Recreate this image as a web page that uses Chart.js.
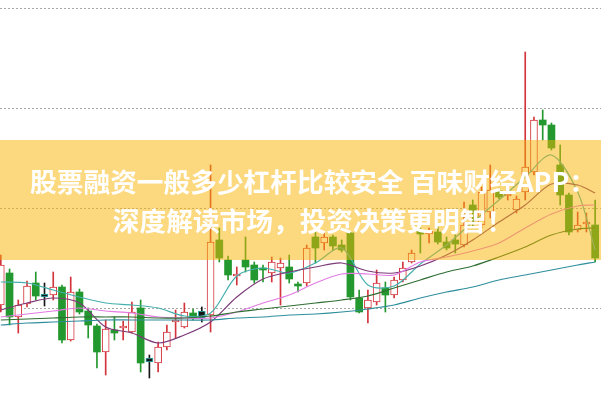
<!DOCTYPE html>
<html><head><meta charset="utf-8">
<script src="https://cdn.jsdelivr.net/npm/chart.js@4.4.1/dist/chart.umd.min.js"></script>
<style>html,body{margin:0;padding:0;background:#fff;overflow:hidden}#wrap{position:relative;width:601px;height:400px}</style>
</head><body>
<div id="wrap"><canvas id="c" width="601" height="400"></canvas></div>
<script>
const openP = [8.015,8.175,7.955,8.02,8.125,8.07,8.065,8.105,7.84,8.08,7.985,7.91,7.78,7.89,7.9,7.88,8.0,7.75,7.725,7.805,7.93,7.905,7.975,7.985,7.965,8.34,8.24,8.16,8.24,8.215,8.2,8.175,8.2,8.205,8.12,8.125,8.355,8.325,8.355,8.315,8.375,8.05,8.0,8.03,8.1,8.065,8.14,8.23,8.385,8.37,8.38,8.33,8.34,8.315,8.515,8.415,8.48,8.585,8.56,8.49,8.58,8.68,8.94,8.915,8.715,8.565,8.39,8.42,8.415];
const closeP = [8.215,7.955,8.015,8.11,8.06,8.055,8.105,7.84,8.08,7.98,7.915,7.78,7.895,7.875,7.91,7.98,7.725,7.73,7.805,7.88,7.94,7.98,7.95,7.95,8.33,8.25,8.165,8.17,8.205,8.14,8.19,8.23,8.225,8.145,8.11,8.3,8.3,8.355,8.31,8.29,8.055,7.98,8.04,8.125,8.065,8.14,8.2,8.275,8.37,8.385,8.33,8.3,8.32,8.415,8.485,8.58,8.59,8.555,8.57,8.545,8.705,8.94,8.915,8.8,8.565,8.38,8.415,8.43,8.25];
const highP = [8.265,8.195,8.04,8.135,8.18,8.125,8.18,8.115,8.155,8.095,8.0,7.92,7.94,7.955,7.935,8.03,8.04,7.765,7.83,7.915,7.99,8.025,7.995,8.005,8.715,8.4,8.26,8.205,8.355,8.23,8.215,8.255,8.25,8.265,8.13,8.315,8.405,8.375,8.365,8.34,8.38,8.09,8.09,8.19,8.13,8.155,8.23,8.29,8.4,8.4,8.405,8.355,8.365,8.53,8.54,8.605,8.715,8.6,8.59,8.56,9.28,8.955,8.99,8.925,8.815,8.575,8.48,8.475,8.54];
const lowP = [7.98,7.915,7.875,8.005,8.04,8.01,8.04,7.825,7.835,7.97,7.85,7.7,7.665,7.84,7.84,7.875,7.68,7.65,7.68,7.79,7.85,7.9,7.94,7.93,7.88,8.23,8.14,8.115,8.18,8.125,8.13,8.13,8.015,8.125,8.08,8.11,8.225,8.29,8.29,8.28,8.04,7.975,7.925,8.015,7.98,8.05,8.13,8.225,8.275,8.325,8.32,8.29,8.275,8.305,8.405,8.4,8.45,8.545,8.54,8.475,8.54,8.665,8.84,8.79,8.515,8.365,8.38,8.38,8.23];
const flagged = [5,17,23];

const maIdx = [0,3,6,9,12,15,18,21,24,27,30,33,36,39,42,45,48,51,54,57,60,63,66,68];
const maFast = [8.13,8.125,8.09,8.055,8.025,8.015,8.0,7.96,7.975,8.16,8.2,8.175,8.225,8.3,8.115,8.11,8.22,8.315,8.43,8.54,8.655,8.765,8.58,8.29];
const maPurple = [7.99,8.025,8.05,8.025,7.905,7.875,7.825,7.865,7.93,8.055,8.145,8.18,8.205,8.225,8.185,8.175,8.21,8.265,8.34,8.43,8.515,8.62,8.615,8.575];
const maPink = [7.955,7.97,7.985,8.0,7.985,7.975,7.955,7.95,7.95,7.98,8.025,8.065,8.125,8.17,8.17,8.165,8.23,8.255,8.285,8.325,8.4,8.47,8.51,8.515];
const maGreen = [7.94,7.945,7.95,7.955,7.955,7.955,7.95,7.95,7.96,7.98,7.995,8.01,8.025,8.04,8.06,8.1,8.14,8.18,8.21,8.255,8.305,8.365,8.395,8.4];
const maLong = [7.915,7.925,7.93,7.935,7.94,7.94,7.94,7.94,7.94,7.95,7.955,7.965,7.97,7.98,7.995,8.015,8.05,8.08,8.105,8.14,8.165,8.19,8.215,8.23];

const gridPrices = [8.0, 8.5, 9.0, 9.5];
const titleLines = ['股票融资一般多少杠杆比较安全 百味财经APP：', '深度解读市场，投资决策更明智！'];

const RED = '#d3343c', GREEN = '#23982e', BLACK = '#161616';
function kind(i){ if (flagged.includes(i)) return 'flag'; return closeP[i] >= openP[i] ? 'up' : 'down'; }
const idxs = openP.map((_, i) => i);
function bodies(k){ return idxs.filter(i => kind(i) === k).map(i => ({x: i, y: [Math.min(openP[i], closeP[i]), Math.max(openP[i], closeP[i])]})); }
function wicks(k){ return idxs.filter(i => kind(i) === k).map(i => ({x: i, y: [lowP[i], highP[i]]})); }

const barBase = {type: 'bar', grouped: false, borderSkipped: false};
function line(data, color){
  return {type: 'line', data: maIdx.map((x, k) => ({x, y: data[k]})), borderColor: color, borderWidth: 1.2,
    pointRadius: 0, tension: 0.3, fill: false, order: 0};
}

const datasets = [
  {...barBase, data: wicks('up'), backgroundColor: RED, barThickness: 1, borderWidth: 0, order: 3},
  {...barBase, data: wicks('down'), backgroundColor: GREEN, barThickness: 1, borderWidth: 0, order: 3},
  {...barBase, data: wicks('flag'), backgroundColor: BLACK, barThickness: 1, borderWidth: 0, order: 3},
  {...barBase, data: bodies('up'), backgroundColor: '#ffffff', borderColor: RED, borderWidth: 1, barThickness: 7, order: 2},
  {...barBase, data: bodies('down'), backgroundColor: GREEN, borderColor: GREEN, borderWidth: 0, barThickness: 7, order: 2},
  {...barBase, data: bodies('flag'), backgroundColor: BLACK, borderColor: '#2fb0b0', borderWidth: 1, barThickness: 7, order: 2},
  line(maLong, '#2f8e9c'),
  line(maGreen, '#2f6e32'),
  line(maPink, '#e27be2'),
  line(maPurple, '#7d3a78'),
  line(maFast, '#45b0ad')
];

const gridPlugin = {
  id: 'dottedGrid',
  beforeDatasetsDraw(chart){
    const {ctx, chartArea, scales} = chart;
    ctx.save();
    ctx.strokeStyle = '#a8a8a8'; ctx.lineWidth = 1; ctx.setLineDash([2, 2]);
    gridPrices.forEach(p => {
      const y = Math.round(scales.y.getPixelForValue(p)) + 0.5;
      ctx.beginPath(); ctx.moveTo(chartArea.left, y); ctx.lineTo(chartArea.right, y); ctx.stroke();
    });
    ctx.restore();
  }
};
const bannerPlugin = {
  id: 'banner',
  afterDraw(chart){
    const {ctx} = chart;
    ctx.save();
    ctx.fillStyle = 'rgba(249,179,0,0.5)';
    ctx.fillRect(0, 140, 601, 120);
    ctx.fillStyle = '#ffffff';
    ctx.font = 'bold 26.7px "Noto Sans CJK SC", "Noto Sans", sans-serif';
    ctx.textAlign = 'center'; ctx.textBaseline = 'middle';
    ctx.fillText(titleLines[0], 313, 182);
    ctx.fillText(titleLines[1], 313, 221);
    ctx.restore();
  }
};

new Chart(document.getElementById('c'), {
  data: {datasets},
  options: {
    responsive: false, animation: false, devicePixelRatio: 1,
    layout: {padding: 0},
    plugins: {legend: {display: false}, tooltip: {enabled: false}},
    scales: {
      x: {type: 'linear', offset: false, min: -0.0915, max: 68.67, display: false},
      y: {type: 'linear', min: 7.54, max: 9.54, display: false}
    }
  },
  plugins: [gridPlugin, bannerPlugin]
});
</script>
</body></html>
